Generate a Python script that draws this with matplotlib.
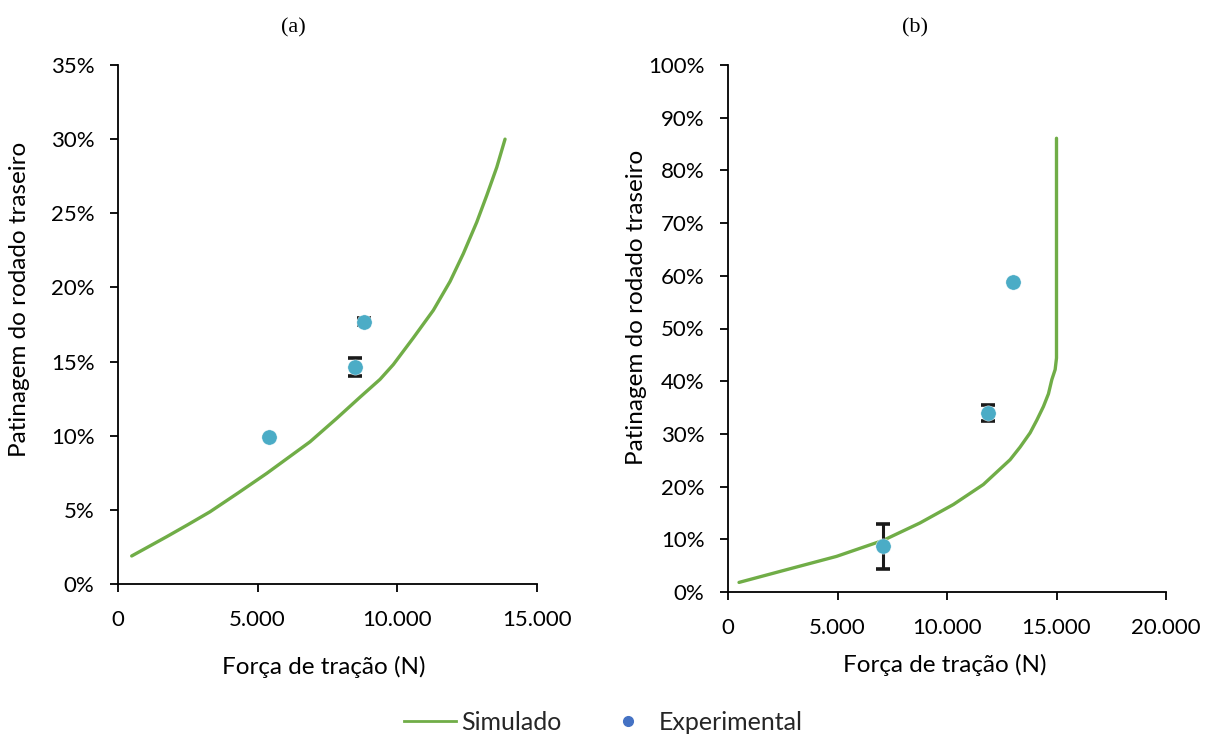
import matplotlib
matplotlib.use("Agg")
import matplotlib.pyplot as plt
from matplotlib.lines import Line2D
from matplotlib.ticker import FuncFormatter, MultipleLocator

plt.rcParams['font.family'] = ['Lato', 'DejaVu Sans']

# (a) simulated curve: traction force (N) vs rear wheel slip (%)
sim_a_force = [490, 1743, 2500, 3294, 4308, 5324, 6874, 7830, 8665, 9380, 9857, 10573,
               11289, 11887, 12363, 12843, 13200, 13559, 13856]
sim_a_slip = [1.89, 3.19, 4.0, 4.87, 6.15, 7.46, 9.59, 11.17, 12.6, 13.8, 14.8, 16.6,
              18.46, 20.4, 22.28, 24.4, 26.2, 28.1, 30.0]

# (a) experimental points
exp_a_force = [5406, 8474, 8797]
exp_a_slip = [9.88, 14.64, 17.7]
exp_a_err = [0.0, 0.63, 0.25]

# (b) simulated curve
sim_b_force = [503, 2670, 4957, 7088, 8766, 10290, 11660, 12881, 13338, 13795, 14100,
               14404, 14632, 14787, 14938, 15000, 15000]
sim_b_slip = [1.82, 4.23, 6.76, 9.8, 13.1, 16.6, 20.4, 25.1, 27.5, 30.2, 32.6,
              35.2, 37.6, 40.3, 42.2, 44.4, 86.1]

# (b) experimental points
exp_b_force = [7088, 11875, 13031]
exp_b_slip = [8.65, 33.97, 58.75]
exp_b_err = [4.2, 1.5, 0.0]

GREEN = '#70AD47'
TEAL = '#4BACC6'
BLUE = '#4472C4'

fig = plt.figure(figsize=(12.07, 7.38), dpi=100)
ax_a = fig.add_axes([118 / 1207, 1 - 584 / 738, 419 / 1207, 519 / 738])
ax_b = fig.add_axes([728 / 1207, 1 - 592 / 738, 438 / 1207, 527 / 738])

thousands = FuncFormatter(lambda v, p: f'{int(v):,}'.replace(',', '.'))
percent = FuncFormatter(lambda v, p: f'{int(round(v))}%')

def style(ax, xmax, ymax, ystep, xlab_pos, ylab_pos):
    ax.set_xlim(0, xmax)
    ax.set_ylim(0, ymax)
    ax.xaxis.set_major_locator(MultipleLocator(5000))
    ax.yaxis.set_major_locator(MultipleLocator(ystep))
    ax.xaxis.set_major_formatter(thousands)
    ax.yaxis.set_major_formatter(percent)
    for s in ['top', 'right']:
        ax.spines[s].set_visible(False)
    for s in ['left', 'bottom']:
        ax.spines[s].set_linewidth(1.3)
    ax.tick_params(direction='out', length=6, width=1.3, labelsize=16, colors='black')
    ax.tick_params(axis='x', pad=13)
    ax.tick_params(axis='y', pad=11)
    ax.set_xlabel('Força de tração (N)', fontsize=17.5, va='center')
    ax.set_ylabel('Patinagem do rodado traseiro', fontsize=17.5, va='center')
    ax.xaxis.set_label_coords(*xlab_pos)
    ax.yaxis.set_label_coords(*ylab_pos)

style(ax_a, 15000, 35, 5, (0.49, -0.160), (-0.234, 0.549))
style(ax_b, 20000, 100, 10, (0.495, -0.1385), (-0.208, 0.541))

fig.text(293 / 1207, 1 - 28 / 738, '(a)', fontsize=16, family='Liberation Serif', ha='center', va='center')
fig.text(915 / 1207, 1 - 28 / 738, '(b)', fontsize=16, family='Liberation Serif', ha='center', va='center')

for ax, sf, ss, ef, es, ee in [
    (ax_a, sim_a_force, sim_a_slip, exp_a_force, exp_a_slip, exp_a_err),
    (ax_b, sim_b_force, sim_b_slip, exp_b_force, exp_b_slip, exp_b_err),
]:
    ax.plot(sf, ss, color=GREEN, lw=2.4, solid_capstyle='round', solid_joinstyle='round', zorder=2)
    ax.errorbar(ef, es, yerr=ee, fmt='none', ecolor='#1a1a1a', elinewidth=2.2,
                capsize=5, capthick=2.6, zorder=3)
    ax.plot(ef, es, 'o', color=TEAL, ms=11, mec='white', mew=0.3, zorder=4)

handles = [
    Line2D([0], [0], color=GREEN, lw=2),
    Line2D([0], [0], marker='o', color='none', markerfacecolor=BLUE, markeredgecolor=BLUE, ms=7),
]
fig.legend(handles, ['Simulado', 'Experimental'], loc='center', bbox_to_anchor=(0.5, 1 - 722 / 738),
           ncol=2, frameon=False, fontsize=18, handlelength=2.1, columnspacing=1.6,
           handletextpad=0.2, labelcolor='#262626')

fig.savefig('out.png', dpi=100)
